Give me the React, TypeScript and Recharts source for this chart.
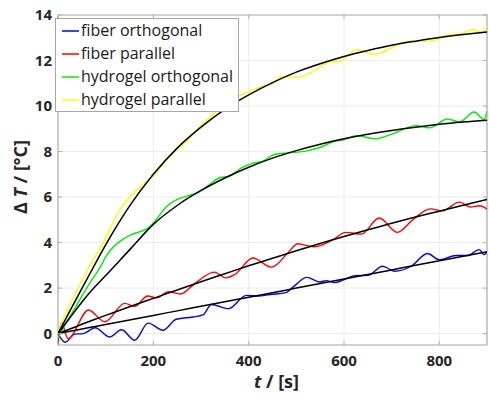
import React from "react";
import {
  LineChart, Line, XAxis, YAxis, CartesianGrid, ReferenceArea,
} from "recharts";

// measured data (time in s, temperature rise in °C)
const blueT = [0, 15, 35, 53, 78, 108, 133, 161, 189, 220, 248, 283, 304, 322, 358, 395, 420, 445, 478, 496, 522, 549, 563, 580, 598, 622, 650, 681, 706, 741, 775, 800, 835, 859, 884, 894, 900];
const blueV = [0, -0.38, -0.02, 0.0, 0.26, -0.15, 0.17, -0.29, 0.46, 0.15, 0.63, 0.73, 0.82, 1.28, 1.1, 1.68, 1.65, 1.72, 1.8, 2.1, 2.47, 2.27, 2.33, 2.24, 2.35, 2.55, 2.56, 2.96, 2.74, 2.96, 3.52, 3.25, 3.43, 3.43, 3.69, 3.47, 3.6];

const redT = [0, 7, 21, 64, 98, 140, 161, 188, 207, 232, 257, 287, 328, 352, 371, 409, 448, 482, 503, 520, 538, 556, 577, 604, 636, 674, 712, 744, 781, 807, 842, 866, 884, 900];
const redV = [-0.45, 0.48, -0.22, 1.04, 0.52, 1.33, 1.2, 1.65, 1.57, 1.84, 1.74, 2.2, 2.7, 2.45, 2.6, 3.32, 2.92, 3.54, 3.95, 3.88, 3.82, 3.91, 4.13, 4.45, 4.37, 5.08, 4.45, 5.0, 5.48, 5.4, 5.78, 5.56, 5.62, 5.47];

const greenT = [0, 12, 25, 38, 50, 66, 88, 101, 118, 135, 154, 175, 190, 205, 226, 249, 270, 294, 318, 339, 360, 385, 406, 430, 454, 482, 517, 552, 580, 601, 626, 667, 702, 751, 779, 817, 842, 873, 894, 900];
const greenV = [-0.2, 0.3, 0.75, 1.2, 1.65, 2.2, 2.9, 3.4, 3.85, 4.13, 4.35, 4.5, 4.65, 4.98, 5.55, 5.89, 6.04, 6.2, 6.55, 6.85, 6.92, 7.28, 7.47, 7.58, 7.87, 7.94, 8.01, 8.2, 8.45, 8.53, 8.7, 8.56, 8.78, 9.14, 9.04, 9.43, 9.3, 9.74, 9.41, 9.77];

const yellowT = [0, 10, 20, 38, 66, 84, 101, 118, 135, 150, 165, 186, 205, 226, 245, 270, 287, 329, 364, 392, 430, 448, 470, 498, 530, 570, 590, 626, 664, 704, 740, 780, 821, 845, 872, 889, 900];
const yellowV = [0, 0.6, 1.05, 1.85, 2.96, 3.6, 4.25, 5.0, 5.6, 6.0, 6.3, 6.7, 7.05, 7.6, 8.0, 8.45, 8.85, 9.7, 10.29, 10.55, 10.87, 10.95, 11.3, 11.26, 11.45, 11.93, 11.96, 12.47, 12.27, 12.6, 12.85, 12.85, 13.14, 13.18, 13.36, 13.22, 13.55];

// fitted curves
const fitT = [0, 25, 50, 75, 100, 150, 200, 250, 300, 350, 400, 450, 500, 550, 600, 650, 700, 750, 800, 850, 900];
const blueFit = [0, 0.1, 0.2, 0.3, 0.4, 0.6, 0.8, 1.0, 1.2, 1.4, 1.6, 1.8, 2.0, 2.2, 2.4, 2.6, 2.8, 3.0, 3.2, 3.4, 3.6];
const redFit = [0, 0.2, 0.41, 0.61, 0.8, 1.18, 1.55, 1.92, 2.28, 2.63, 2.98, 3.31, 3.64, 3.96, 4.27, 4.56, 4.85, 5.12, 5.38, 5.64, 5.89];
const greenFit = [0, 0.7, 1.38, 2.0, 2.55, 3.68, 4.8, 5.63, 6.29, 6.84, 7.31, 7.71, 8.04, 8.32, 8.56, 8.76, 8.93, 9.07, 9.2, 9.3, 9.38];
const yellowFit = [0, 1.0, 1.98, 2.95, 3.9, 5.6, 7.0, 8.15, 9.07, 9.85, 10.49, 11.03, 11.49, 11.86, 12.18, 12.44, 12.67, 12.85, 13.01, 13.14, 13.25];

const xTicks = [0, 200, 400, 600, 800];
const yTicks = [0, 2, 4, 6, 8, 10, 12, 14];

const seriesNames = ["fiber orthogonal", "fiber parallel", "hydrogel orthogonal", "hydrogel parallel"];
const seriesColors = ["#0000ff", "#ff0000", "#00ee00", "#ffff00"];

const toPts = (t: number[], v: number[]) => t.map((x, i) => ({ t: x, v: v[i] }));

const W = 489;
const H = 394;
const LEFT = 58;
const TOP = 15;
const RIGHT = 487;
const BOTTOM = 345;
const FONT = "'Open Sans', 'Noto Sans', sans-serif";
const TICK_COLOR = "#262626";

const XTick = (props: any) => {
  const { x, y, payload } = props;
  return (
    <g>
      <line x1={x} x2={x} y1={BOTTOM} y2={BOTTOM - 4} stroke="#b0b0b0" />
      <line x1={x} x2={x} y1={TOP} y2={TOP + 4} stroke="#b0b0b0" />
      <text x={x} y={y} dy="0.71em" textAnchor="middle" fill={TICK_COLOR}
        fontSize={15} fontWeight="bold" fontFamily={FONT}>{payload.value}</text>
    </g>
  );
};

const YTick = (props: any) => {
  const { x, y, payload } = props;
  return (
    <g>
      <line x1={LEFT} x2={LEFT + 4} y1={y} y2={y} stroke="#b0b0b0" />
      <line x1={RIGHT} x2={RIGHT - 4} y1={y} y2={y} stroke="#b0b0b0" />
      <text x={x} y={y} dy="0.35em" textAnchor="end" fill={TICK_COLOR}
        fontSize={15} fontWeight="bold" fontFamily={FONT}>{payload.value}</text>
    </g>
  );
};

const ChartLegend = () => (
  <div style={{
    position: "absolute", left: 55, top: 18, boxSizing: "border-box",
    border: "1px solid #a6a6a6", background: "#fff", padding: "0px 5px 0px 6px",
    fontFamily: FONT, fontSize: 16, color: "#1a1a1a", lineHeight: "23px",
  }}>
    {seriesNames.map((n, i) => (
      <div key={n} style={{ display: "flex", alignItems: "center", whiteSpace: "nowrap" }}>
        <svg width={19} height={4} style={{ display: "block" }}>
          <line x1={0} x2={17} y1={2} y2={2} stroke={seriesColors[i]} strokeWidth={1.5} />
        </svg>
        <span>{n}</span>
      </div>
    ))}
  </div>
);

export default function App() {
  const data = [toPts(blueT, blueV), toPts(redT, redV), toPts(greenT, greenV), toPts(yellowT, yellowV)];
  const fits = [blueFit, redFit, greenFit, yellowFit].map((f) => toPts(fitT, f));

  return (
    <div style={{ position: "absolute", left: 0, top: 0, width: W, height: H, background: "#fff" }}>
      <LineChart width={W} height={H} margin={{ top: TOP, right: W - RIGHT, left: 0, bottom: 0 }}>
        <CartesianGrid stroke="#ececec" strokeWidth={1} />
        <XAxis
          dataKey="t" type="number" domain={[0, 900]} ticks={xTicks} allowDataOverflow
          height={H - BOTTOM} tickSize={0} tickMargin={10}
          axisLine={false} tick={<XTick />}
          label={{
            content: (p: any) => {
              const vb = p.viewBox;
              return (
                <text x={vb.x + vb.width / 2 + 4} y={388} textAnchor="middle" fill={TICK_COLOR}
                  fontSize={18} fontWeight="bold" fontFamily={FONT}>
                  <tspan fontStyle="italic">t</tspan>
                  <tspan> / [s]</tspan>
                </text>
              );
            },
          }}
        />
        <YAxis
          type="number" domain={[-0.5, 14]} ticks={yTicks} allowDataOverflow
          width={LEFT} tickSize={0} tickMargin={6} axisLine={false} tick={<YTick />}
          label={{
            content: (p: any) => {
              const vb = p.viewBox;
              const cy = vb.y + vb.height / 2 - 3;
              return (
                <text x={20} y={cy} transform={`rotate(-90, 20, ${cy})`} textAnchor="middle"
                  dominantBaseline="central" fill={TICK_COLOR}
                  fontSize={18} fontWeight="bold" fontFamily={FONT}>
                  <tspan>Δ </tspan>
                  <tspan fontStyle="italic">T</tspan>
                  <tspan> / [°C]</tspan>
                </text>
              );
            },
          }}
        />
        <ReferenceArea x1={0} x2={900} y1={-0.5} y2={14} fill="none" stroke="#b0b0b0" strokeWidth={1.2} />
        {data.map((d, i) => (
          <Line key={seriesNames[i]} data={d} dataKey="v" name={seriesNames[i]} type="monotone"
            stroke={seriesColors[i]} strokeWidth={1.4} dot={false} isAnimationActive={false} />
        ))}
        {fits.map((d, i) => (
          <Line key={"fit" + i} data={d} dataKey="v" type="monotone"
            stroke="#000" strokeWidth={1.5} dot={false} isAnimationActive={false} />
        ))}
      </LineChart>
      <ChartLegend />
    </div>
  );
}
